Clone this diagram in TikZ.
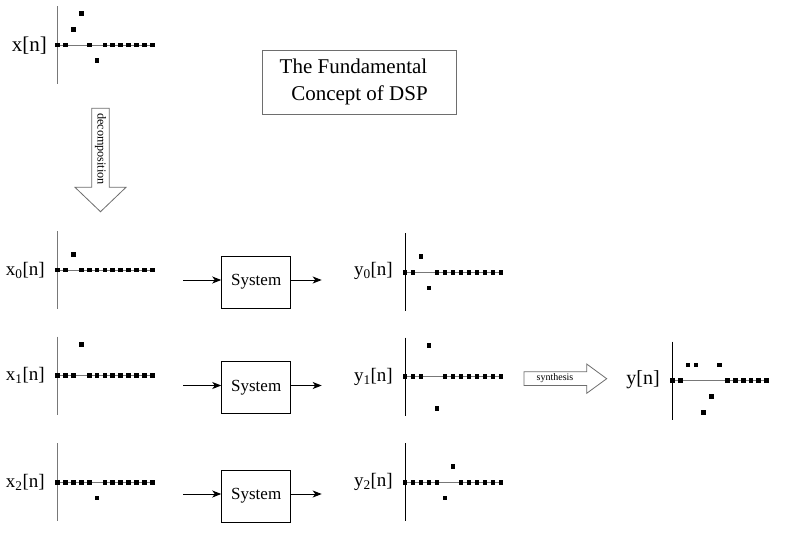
\documentclass[tikz,border=0pt]{standalone}
\usepackage{fontspec}
\setmainfont{Liberation Serif}
\usetikzlibrary{arrows.meta}
\definecolor{axgray}{RGB}{120,120,120}
\definecolor{argray}{RGB}{110,110,110}
\newcommand\stemplot[5]{% #1 x of axis, #2 y of axis, #3 values, #4 vertical axis colour, #5 spacing
  \draw[#4, line width=0.9pt] (#1,#2-39) -- (#1,#2+39);
  \draw[axgray, line width=0.7pt] (#1,#2) -- ({#1+12*#5},#2);
  \foreach \v [count=\i from 0] in {#3} {
    \fill ({#1+\i*#5-2.4}, {#2-(\v)*15.7-2.4}) rectangle ++(4.8,4.8);
  }
}
\begin{document}
\begin{tikzpicture}[x=1pt,y=-1pt,
  biglbl/.style={font=\fontsize{21}{25}\selectfont, inner sep=0pt, anchor=east},
  lbl/.style={font=\fontsize{19}{23}\selectfont, inner sep=0pt, anchor=east},
  sysbox/.style={draw, line width=0.9pt, minimum width=69pt, minimum height=52pt, inner sep=0pt, font=\fontsize{17}{20}\selectfont},
  flow/.style={-{Stealth[length=9pt,width=7pt,inset=2.5pt]}, line width=1pt},
  fatarrow/.style={draw=argray, line width=0.8pt, fill=white},
]
\useasboundingbox (0,0) rectangle (800,533);

% title
\node[draw=argray, line width=0.9pt, minimum width=194.4pt, minimum height=63.3pt, inner sep=0pt,
      align=center, font=\fontsize{21}{27}\selectfont] (title) at (359.5,82.4)
      {The Fundamental\hspace*{12pt}\\Concept of DSP};

% input signal
\node[biglbl] (lx) at (47,45.5) {x[n]};
\stemplot{57.5}{45}{0,0,1,2,0,-1,0,0,0,0,0,0,0}{axgray}{7.9}

% decomposition arrow
\draw[fatarrow] (91.7,108.3) -- (109.3,108.3) -- (109.3,187.3) -- (126,187.3) -- (100.5,211.7)
  -- (75,187.3) -- (91.7,187.3) -- cycle;
\node[rotate=-90, font=\fontsize{12.2}{14}\selectfont, inner sep=0pt] (dec) at (100.5,149) {decomposition};

% components
\node[lbl] (lx0) at (45,270.5) {x\textsubscript{0}[n]};
\stemplot{57.5}{270}{0,0,1,0,0,0,0,0,0,0,0,0,0}{axgray}{7.9}
\node[lbl] (lx1) at (45,375.5) {x\textsubscript{1}[n]};
\stemplot{57.5}{375.7}{0,0,0,2,0,0,0,0,0,0,0,0,0}{axgray}{7.9}
\node[lbl] (lx2) at (45,482) {x\textsubscript{2}[n]};
\stemplot{57.5}{482.3}{0,0,0,0,0,-1,0,0,0,0,0,0,0}{axgray}{7.9}

% systems
\node[sysbox] (s0) at (256.2,282) {System};
\node[sysbox] (s1) at (256.2,387.5) {System};
\node[sysbox] (s2) at (256.2,496) {System};
\coordinate (i0) at (183,280);
\coordinate (i1) at (183,385.5);
\coordinate (i2) at (183,494);
\coordinate (o0) at (321.7,280);
\coordinate (o1) at (321.7,385.5);
\coordinate (o2) at (321.7,494);
\draw[flow] (i0) -- (i0 -| s0.west);
\draw[flow] (i1) -- (i1 -| s1.west);
\draw[flow] (i2) -- (i2 -| s2.west);
\draw[flow] (o0 -| s0.east) -- (o0);
\draw[flow] (o1 -| s1.east) -- (o1);
\draw[flow] (o2 -| s2.east) -- (o2);

% outputs
\node[lbl] (ly0) at (393,271) {y\textsubscript{0}[n]};
\stemplot{405}{272.3}{0,0,1,-1,0,0,0,0,0,0,0,0,0}{black}{8}
\node[lbl] (ly1) at (393,377) {y\textsubscript{1}[n]};
\stemplot{405}{376.7}{0,0,0,2,-2,0,0,0,0,0,0,0,0}{black}{8}
\node[lbl] (ly2) at (393,482) {y\textsubscript{2}[n]};
\stemplot{405}{482.3}{0,0,0,0,0,-1,1,0,0,0,0,0,0}{black}{8}

% synthesis arrow
\draw[fatarrow] (524,371.7) -- (586.7,371.7) -- (586.7,364) -- (606.7,378.7) -- (586.7,393.3)
  -- (586.7,385.5) -- (524,385.5) -- cycle;
\node[font=\fontsize{10}{12}\selectfont, inner sep=0pt] (syn) at (555,378.5) {synthesis};

% output signal
\node[lbl, font=\fontsize{20}{24}\selectfont] (ly) at (660,380) {y[n]};
\stemplot{672.3}{380.7}{0,0,1,1,-2,-1,1,0,0,0,0,0,0}{black}{7.87}
\end{tikzpicture}
\end{document}
